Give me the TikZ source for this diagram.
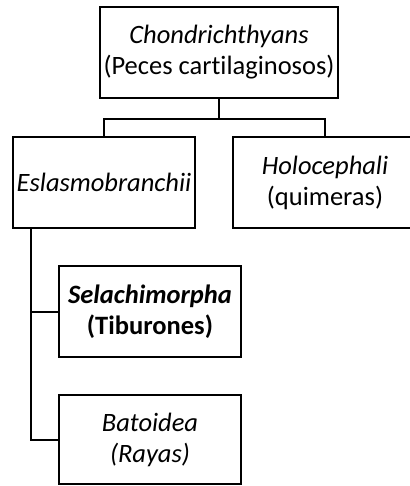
\documentclass[tikz,border=0pt]{standalone}
\usepackage{fontspec}
\setmainfont{Carlito}[Ligatures=NoCommon]
\usetikzlibrary{positioning}

\begin{document}
\begin{tikzpicture}[x=1pt, y=-1pt, line width=2pt,
  every node/.style={rectangle, draw, minimum height=91pt, align=center, inner sep=0pt, font=\fontsize{26.5}{31}\selectfont}]
  \useasboundingbox (0,0) rectangle (409,486);
  \node[minimum width=238pt] (chon) at (219,52.5) {\textit{Chondrichthyans}\\(Peces cartilaginosos)};
  \node[minimum width=182pt] (esla) at (104,182.5) {\textit{Eslasmobranchii}};
  \node[minimum width=184pt] (holo) at (325,182.5) {\textit{Holocephali}\\(quimeras)};
  \node[minimum width=182pt] (sela) at (150,311.5) {\textbf{\textit{Selachimorpha}}\\\textbf{(Tiburones)}};
  \node[minimum width=182pt, minimum height=89pt] (bato) at (150,439.5) {\textit{Batoidea}\\\textit{(Rayas)}};
  % branches
  \draw (chon.south) -- ++(0,20) coordinate (split);
  \draw (split) -| (esla.north);
  \draw (split) -| (holo.north);
  \coordinate (spine) at ([xshift=19pt]esla.south west);
  \draw (spine) |- (sela.west);
  \draw (spine) |- (bato.west);
\end{tikzpicture}
\end{document}
